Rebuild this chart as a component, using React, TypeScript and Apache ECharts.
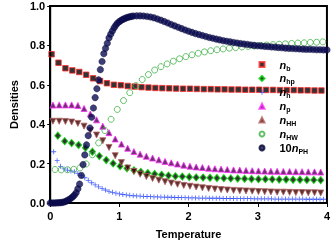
import React, { useEffect, useRef } from 'react';
import * as echarts from 'echarts';

// Temperature grids and densities
const tB = [0.02,0.12,0.22,0.32,0.42,0.52,0.62,0.72,0.82,0.92,1.02,1.12,1.22,1.32,1.42,1.52,1.62,1.72,1.82,1.92,2.02,2.12,2.22,2.32,2.42,2.52,2.62,2.72,2.82,2.92,3.02,3.12,3.22,3.32,3.42,3.52,3.62,3.72,3.82,3.92];
const nB = [0.755,0.712,0.684,0.673,0.665,0.651,0.633,0.619,0.608,0.600,0.598,0.594,0.591,0.588,0.586,0.584,0.583,0.582,0.581,0.580,0.580,0.579,0.578,0.578,0.577,0.577,0.576,0.576,0.575,0.575,0.575,0.574,0.574,0.573,0.573,0.573,0.572,0.572,0.571,0.571];

const tHp = [0.11,0.21,0.31,0.41,0.51,0.61,0.71,0.81,0.91,1.01,1.11,1.21,1.31,1.41,1.51,1.61,1.71,1.81,1.91,2.01,2.11,2.21,2.31,2.41,2.51,2.61,2.71,2.81,2.91,3.01,3.11,3.21,3.31,3.41,3.51,3.61,3.71,3.81,3.91];
const nHp = [0.342,0.314,0.304,0.294,0.280,0.260,0.238,0.218,0.201,0.187,0.176,0.166,0.158,0.152,0.147,0.143,0.139,0.136,0.134,0.132,0.130,0.129,0.128,0.127,0.126,0.125,0.124,0.123,0.122,0.121,0.121,0.120,0.119,0.119,0.118,0.118,0.117,0.117,0.116];

const tH = [0.05,0.10,0.15,0.20,0.25,0.30,0.35,0.40,0.45,0.50,0.55,0.60,0.65,0.70,0.75,0.80,0.85,0.90,0.95,1.00,1.05,1.10,1.15,1.20,1.25,1.30,1.35,1.40,1.45,1.50,1.55,1.60,1.65,1.70,1.75,1.80,1.85,1.90,1.95,2.00,2.05,2.10,2.15,2.20,2.25,2.30,2.35,2.40,2.45,2.50,2.55,2.60,2.65,2.70,2.75,2.80,2.85,2.90,2.95,3.00,3.05,3.10,3.15,3.20,3.25,3.30,3.35,3.40,3.45,3.50,3.55,3.60,3.65,3.70,3.75,3.80,3.85,3.90,3.95];
const nH = [0.260,0.215,0.186,0.173,0.167,0.163,0.158,0.150,0.140,0.128,0.115,0.103,0.092,0.082,0.073,0.066,0.059,0.054,0.050,0.046,0.043,0.041,0.039,0.037,0.036,0.035,0.034,0.033,0.032,0.031,0.031,0.030,0.030,0.029,0.029,0.028,0.028,0.027,0.027,0.026,0.026,0.026,0.025,0.025,0.025,0.024,0.024,0.024,0.024,0.023,0.023,0.023,0.023,0.022,0.022,0.022,0.022,0.022,0.021,0.021,0.021,0.021,0.021,0.021,0.020,0.020,0.020,0.020,0.020,0.020,0.020,0.020,0.020,0.019,0.019,0.019,0.019,0.019,0.019];

const tPHH = [0.04,0.13,0.22,0.31,0.40,0.49,0.58,0.67,0.76,0.85,0.94,1.03,1.12,1.21,1.30,1.39,1.48,1.57,1.66,1.75,1.84,1.93,2.02,2.11,2.20,2.29,2.38,2.47,2.56,2.65,2.74,2.83,2.92,3.01,3.10,3.19,3.28,3.37,3.46,3.55,3.64,3.73,3.82,3.91];
const nP = [0.497,0.498,0.498,0.498,0.495,0.480,0.452,0.422,0.390,0.357,0.325,0.299,0.278,0.261,0.248,0.237,0.228,0.219,0.211,0.204,0.198,0.192,0.187,0.183,0.180,0.177,0.174,0.172,0.170,0.168,0.167,0.165,0.164,0.163,0.162,0.161,0.161,0.160,0.160,0.159,0.159,0.158,0.158,0.157];
const nHH = [0.415,0.415,0.414,0.411,0.404,0.390,0.368,0.345,0.316,0.282,0.240,0.205,0.178,0.160,0.146,0.134,0.124,0.116,0.108,0.101,0.095,0.089,0.085,0.081,0.077,0.074,0.071,0.068,0.066,0.064,0.062,0.061,0.060,0.058,0.057,0.056,0.055,0.055,0.054,0.053,0.053,0.052,0.052,0.051];

const tHW = [0.07,0.16,0.25,0.34,0.43,0.52,0.61,0.70,0.79,0.88,0.97,1.06,1.15,1.24,1.33,1.42,1.51,1.60,1.69,1.78,1.87,1.96,2.05,2.14,2.23,2.32,2.41,2.50,2.59,2.68,2.77,2.86,2.95,3.04,3.13,3.22,3.31,3.40,3.49,3.58,3.67,3.76,3.85,3.94];
const nHW = [0.170,0.168,0.169,0.171,0.178,0.198,0.245,0.305,0.368,0.425,0.475,0.520,0.560,0.596,0.627,0.652,0.675,0.692,0.706,0.720,0.732,0.743,0.752,0.760,0.767,0.773,0.778,0.782,0.786,0.789,0.792,0.795,0.797,0.800,0.802,0.804,0.806,0.808,0.810,0.812,0.813,0.815,0.816,0.818];

const tPH = [0,0.025,0.05,0.075,0.1,0.125,0.15,0.175,0.2,0.225,0.25,0.275,0.3,0.325,0.35,0.375,0.4,0.425,0.45,0.475,0.5,0.525,0.55,0.575,0.6,0.625,0.65,0.675,0.7,0.725,0.75,0.775,0.8,0.825,0.85,0.875,0.9,0.925,0.95,0.975,1.0,1.025,1.05,1.075,1.1,1.125,1.15,1.175,1.2,
  1.25,1.30,1.35,1.40,1.45,1.50,1.55,1.60,1.65,1.70,1.75,1.80,1.85,1.90,1.95,2.00,2.05,2.10,2.15,2.20,2.25,2.30,2.35,2.40,2.45,2.50,2.55,2.60,2.65,2.70,2.75,2.80,2.85,2.90,2.95,3.00,3.05,3.10,3.15,3.20,3.25,3.30,3.35,3.40,3.45,3.50,3.55,3.60,3.65,3.70,3.75,3.80,3.85,3.90,3.95,4.00];
const nPH10 = [0.000,0.000,0.000,0.000,0.001,0.001,0.002,0.003,0.005,0.008,
  0.013,0.018,0.024,0.031,0.040,0.052,0.072,0.096,0.140,0.195,
  0.244,0.295,0.342,0.381,0.435,0.482,0.535,0.580,0.625,0.677,
  0.718,0.758,0.785,0.811,0.838,0.857,0.874,0.890,0.903,0.914,
  0.921,0.927,0.932,0.936,0.940,0.943,0.945,0.947,0.949,
  0.950,0.950,0.949,0.947,0.944,0.940,0.934,0.928,0.921,0.914,0.906,0.899,0.892,0.885,0.878,0.872,0.866,0.860,0.855,0.850,0.845,0.840,0.836,0.832,0.828,0.824,0.821,0.818,0.815,0.812,0.809,0.807,0.805,0.802,0.800,0.798,0.797,0.795,0.794,0.792,0.791,0.789,0.788,0.786,0.785,0.784,0.783,0.782,0.781,0.780,0.780,0.779,0.778,0.778,0.777,0.777];

const xTicks = [0, 4, 1];
const yTicks = [0, 1, 0.2];

const seriesNames = ['nb', 'nhp', 'nh', 'np', 'nHH', 'nHW', 'nPH'];
const legendLabels: Record<string, string> = {
  nb: '{i|n}{s|b}',
  nhp: '{i|n}{s|hp}',
  nh: '{i|n}{s|h}',
  np: '{i|n}{s|p}',
  nHH: '{i|n}{s|HH}',
  nHW: '{i|n}{s|HW}',
  nPH: '{d|10}{i|n}{s|PH}',
};

const FONT = 'Liberation Sans, Arial, sans-serif';
const PLUS = 'path://M2.5,0H3.5V2.5H6V3.5H3.5V6H2.5V3.5H0V2.5H2.5Z';

const pairs = (t: number[], v: number[]) => t.map((x, i) => [x, v[i]]);

export default function App() {
  const ref = useRef<HTMLDivElement>(null);
  useEffect(() => {
    const chart = echarts.init(ref.current!, null, { renderer: 'svg' });
    const base = { type: 'scatter', animation: false, emphasis: { disabled: true } };
    chart.setOption({
      animation: false,
      textStyle: { fontFamily: FONT },
      grid: { left: 49, right: 3, top: 6, bottom: 45, show: true, borderColor: '#000', borderWidth: 2, backgroundColor: 'transparent' },
      xAxis: {
        type: 'value', min: xTicks[0], max: xTicks[1], interval: xTicks[2],
        name: 'Temperature', nameLocation: 'middle', nameGap: 25,
        nameTextStyle: { fontFamily: FONT, fontWeight: 'bold', fontSize: 11, color: '#000' },
        axisLine: { show: true, lineStyle: { color: '#000', width: 2 } },
        axisTick: { show: true, length: 4, lineStyle: { color: '#000', width: 1 } },
        axisLabel: { fontFamily: FONT, fontWeight: 'bold', fontSize: 11, color: '#000', margin: 7 },
        splitLine: { show: false },
      },
      yAxis: {
        type: 'value', min: yTicks[0], max: yTicks[1], interval: yTicks[2],
        name: 'Densities', nameLocation: 'middle', nameGap: 27, nameRotate: 90,
        nameTextStyle: { fontFamily: FONT, fontWeight: 'bold', fontSize: 11, color: '#000' },
        axisLine: { show: true, lineStyle: { color: '#000', width: 2 } },
        axisTick: { show: true, length: 3, lineStyle: { color: '#000', width: 1 } },
        axisLabel: { fontFamily: FONT, fontWeight: 'bold', fontSize: 11, color: '#000', margin: 5, formatter: (v: number) => v.toFixed(1) },
        splitLine: { show: false },
      },
      legend: {
        orient: 'vertical', left: 258.5, top: 59, itemWidth: 5, itemHeight: 5, itemGap: 1.4, padding: 0,
        selectedMode: false,
        data: seriesNames,
        formatter: (name: string) => legendLabels[name],
        textStyle: {
          padding: [0, 0, 0, 10],
          rich: {
            i: { fontFamily: FONT, fontSize: 11, fontStyle: 'italic', fontWeight: 'bold', color: '#000', lineHeight: 14 },
            d: { fontFamily: FONT, fontSize: 11, fontWeight: 'bold', color: '#000', lineHeight: 14 },
            s: { fontFamily: FONT, fontSize: 7, fontWeight: 'bold', color: '#000', lineHeight: 8, verticalAlign: 'bottom' },
          },
        },
      },
      series: [
        { ...base, name: 'nb', data: pairs(tB, nB), symbol: 'rect', symbolSize: 5.5, itemStyle: { color: '#000', borderColor: '#ff2a2a', borderWidth: 1 } },
        { ...base, name: 'nhp', data: pairs(tHp, nHp), symbol: 'diamond', symbolSize: [6, 7], itemStyle: { color: '#000', borderColor: '#00d000', borderWidth: 1.2 } },
        { ...base, name: 'nh', data: pairs(tH, nH), symbol: PLUS, symbolSize: 5, itemStyle: { color: '#2040ff' } },
        { ...base, name: 'np', data: pairs(tPHH, nP), symbol: 'triangle', symbolSize: 6, itemStyle: { color: '#4a004a', borderColor: '#ff30ff', borderWidth: 1 } },
        { ...base, name: 'nHH', data: pairs(tPHH, nHH), symbol: 'triangle', symbolRotate: 180, symbolSize: 6, itemStyle: { color: '#3a0000', borderColor: '#b06060', borderWidth: 1 } },
        { ...base, name: 'nHW', data: pairs(tHW, nHW), symbol: 'circle', symbolSize: 6, itemStyle: { color: 'rgba(255,255,255,0)', borderColor: '#3cb043', borderWidth: 1 } },
        { ...base, name: 'nPH', data: pairs(tPH, nPH10), symbol: 'circle', symbolSize: 6.5, itemStyle: { color: '#0d0d55', borderColor: '#050530', borderWidth: 0.5 } },
      ],
    });
    return () => chart.dispose();
  }, []);
  return <div ref={ref} style={{ position: 'fixed', left: 0, top: 0, width: 333, height: 248 }} />;
}
